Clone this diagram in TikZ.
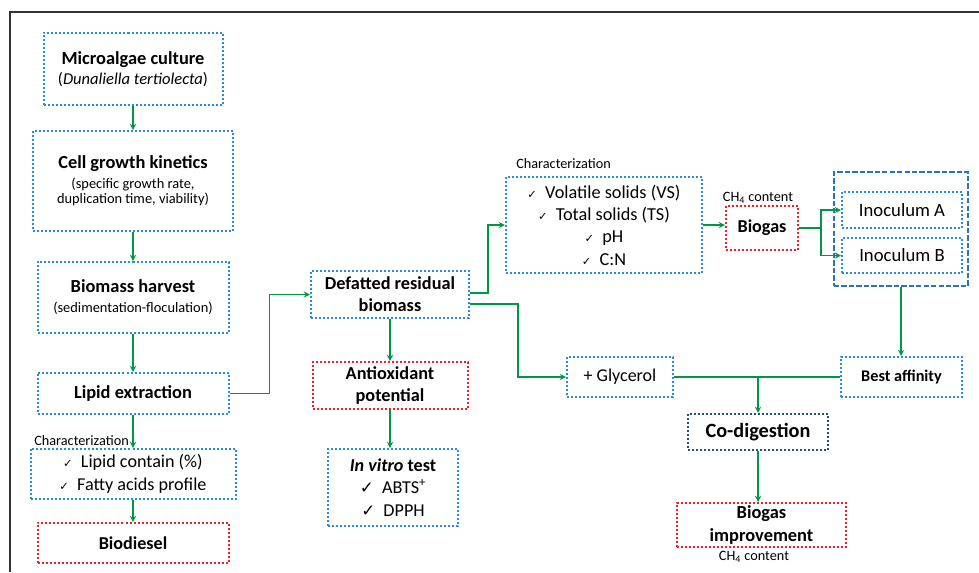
\documentclass[tikz,border=0pt]{standalone}
\usepackage{fontspec}
\setmainfont{Carlito}
\newfontfamily\checkfont{DejaVu Sans}
\usetikzlibrary{arrows}
\definecolor{boxblue}{RGB}{40,140,215}
\definecolor{boxred}{RGB}{240,30,40}
\definecolor{boxnavy}{RGB}{30,80,125}
\definecolor{groupblue}{RGB}{45,115,185}
\definecolor{flowgreen}{RGB}{0,150,70}
\newcommand{\chk}{{\checkfont\fontsize{8.5}{8.5}\selectfont ✓}}
\newcommand{\bigchk}{{\checkfont\fontsize{12.5}{12.5}\selectfont ✓}}
\tikzstyle{stage} = [rectangle, text centered, align=center, draw=boxblue, line width=1.5pt, dash pattern=on 1.5pt off 1.5pt, inner sep=0pt, font=\fontsize{13.5}{16}\selectfont]
\tikzstyle{product} = [stage, draw=boxred]
\tikzstyle{process} = [stage, draw=boxnavy]
\tikzstyle{group} = [rectangle, draw=groupblue, line width=1.5pt, dash pattern=on 4pt off 1.6pt, inner sep=0pt]
\tikzstyle{note} = [inner sep=0pt, font=\fontsize{10.7}{12}\selectfont]
\tikzstyle{flow} = [flowgreen, line width=1.1pt, ->, >=stealth]
\tikzstyle{link} = [flowgreen, line width=1.1pt]
\tikzset{dims/.style 2 args={minimum width=#1*0.75pt, minimum height=#2*0.75pt}}

\begin{document}
\begin{tikzpicture}[x=0.75pt, y=-0.75pt]

    \useasboundingbox (0,0) rectangle (979,572);
    \draw [black!80, line width=1.1pt] (10,572) -- (10,12) -- (979,12);

    % left column
    \node (culture) [stage, dims={179}{72}, font=\fontsize{12.4}{15}\selectfont] at (133,69) {{\fontsize{13.8}{15}\selectfont\bfseries Microalgae culture}\\(\textit{Dunaliella tertiolecta})};
    \node (growth) [stage, dims={200}{100}, font=\fontsize{10.8}{11.5}\selectfont] at (133,181) {{\fontsize{13.8}{16}\selectfont\bfseries Cell growth kinetics}\\[3pt](specific growth rate,\\duplication time, viability)};
    \node (harvest) [stage, dims={191}{71}, font=\fontsize{10.8}{15}\selectfont] at (133,297.5) {{\fontsize{13.8}{16}\selectfont\bfseries Biomass harvest}\\(sedimentation-floculation)};
    \node (lipid) [stage, dims={191}{41}, font=\fontsize{13.8}{16}\selectfont\bfseries] at (133,393.5) {Lipid extraction};
    \node (lipchar) [stage, dims={205}{50}, font=\fontsize{13.6}{17.2}\selectfont] at (133,474) {\chk\ \ Lipid contain (\%)\\\chk\ \ Fatty acids profile};
    \node (biodiesel) [product, dims={191}{40}, font=\fontsize{13.6}{16}\selectfont\bfseries] at (133,543) {Biodiesel};
    \node (lipnote) [note, anchor=west] at (34,441) {Characterization};

    % middle column
    \node (defatted) [stage, dims={158}{47}, font=\fontsize{13.7}{16.5}\selectfont\bfseries] at (390,294.5) {Defatted residual\\biomass};
    \node (antiox) [product, dims={155}{47}, font=\fontsize{13.7}{16.5}\selectfont\bfseries] at (390,385.5) {Antioxidant\\potential};
    \node (invitro) [stage, dims={130}{77}, font=\fontsize{13.6}{17}\selectfont] at (393,487.5) {\textbf{\textit{In vitro} test}\\\bigchk\ \ ABTS\textsuperscript{+}\\\bigchk\ \ DPPH};

    % right part
    \node (charvs) [stage, dims={196}{96}, font=\fontsize{13.7}{16.7}\selectfont] at (604,225) {\chk\ \ Volatile solids (VS)\\\chk\ \ Total solids (TS)\\\chk\ \ pH\\\chk\ \ C:N};
    \node (vsnote) [note, anchor=west] at (516,164) {Characterization};
    \node (biogas) [product, dims={72}{44}, font=\fontsize{13.6}{16}\selectfont\bfseries] at (762,228) {Biogas};
    \node (biogasnote) [note] at (758,198) {CH\textsubscript{4} content};
    \node (inocgroup) [group, dims={134}{114}] at (901,229) {};
    \node (inocA) [stage, dims={120}{36}, font=\fontsize{14}{16}\selectfont] at (902,210) {Inoculum A};
    \node (inocB) [stage, dims={120}{35}, font=\fontsize{14}{16}\selectfont] at (902,255.5) {Inoculum B};
    \node (glycerol) [stage, dims={106}{40}] at (620,377) {+ Glycerol};
    \node (best) [stage, dims={121}{40}, font=\fontsize{12.2}{14}\selectfont\bfseries] at (901.5,377) {Best affinity};
    \node (codig) [process, dims={140}{36}, font=\fontsize{15.2}{17}\selectfont\bfseries] at (758,432) {Co-digestion};
    \node (improve) [product, dims={169}{44}, font=\fontsize{13.8}{17}\selectfont\bfseries] at (761.5,525) {Biogas\\improvement};
    \node (improvenote) [note] at (754,557) {CH\textsubscript{4} content};

    % flows
    \draw [flow] (culture) -- (growth);
    \draw [flow] (growth) -- (harvest);
    \draw [flow] (harvest) -- (lipid);
    \draw [flow] (lipid) -- (lipchar);
    \draw [flow] (lipchar) -- (biodiesel);
    \draw [flow] (lipid.east) -- ++(40,0) |- (defatted.west);

    \draw [flow] (defatted) -- (antiox);
    \draw [flow] (antiox.south) -- (antiox.south |- invitro.north);
    \draw [flow] ([yshift=1pt]defatted.east) -- ++(18,0) |- (charvs.west);
    \draw [flow] ([yshift=-7pt]defatted.east) -- ++(48,0) |- (glycerol.west);

    \draw [flow] (charvs.east) -- (charvs.east -| biogas.west);
    \draw [flow] (biogas.east) -- ++(22,0) |- (inocA.west);
    \draw [flow] (biogas.east) -- ++(22,0) |- (inocB.west);
    \draw [flow] (inocgroup.south) -- (inocgroup.south |- best.north);

    \draw [link] (glycerol.east) -- (best.west);
    \coordinate (join) at (glycerol.east -| codig.north);
    \draw [flow] (join) -- (codig.north);
    \draw [flow] (codig.south) -- (codig.south |- improve.north);

\end{tikzpicture}
\end{document}
